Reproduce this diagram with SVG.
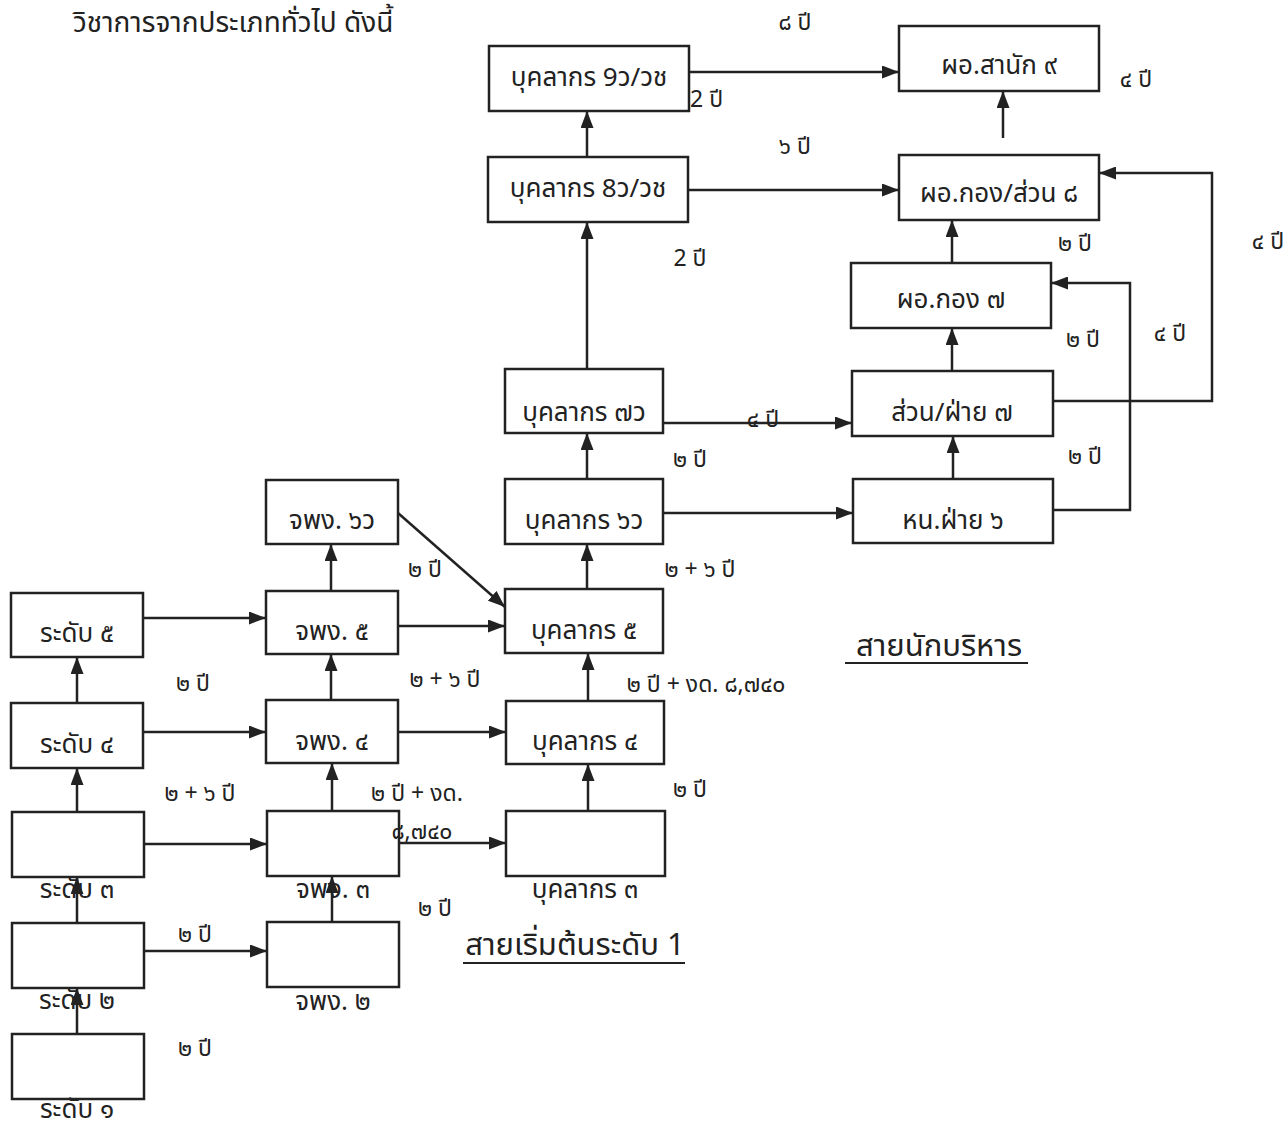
<svg xmlns="http://www.w3.org/2000/svg" width="1288" height="1129" viewBox="0 0 1288 1129">
<style>
  text { font-family: "Noto Sans Thai", "Noto Sans", "DejaVu Sans", sans-serif; fill: #222; dominant-baseline: central; }
  .box { fill: #fff; stroke: #222; stroke-width: 2.5; }
  .bl { font-size: 26px; text-anchor: middle; }
  .lb { font-size: 23px; text-anchor: middle; }
  .ti { font-size: 31px; text-anchor: middle; }
  .edge { fill: none; stroke: #222; stroke-width: 2.5; }
  .ul { stroke: #222; stroke-width: 2; }
</style>
<defs>
  <marker id="ah" markerUnits="userSpaceOnUse" markerWidth="17" markerHeight="13" refX="17" refY="6.5" orient="auto">
    <path d="M0,0 L17,6.5 L0,13 z" fill="#222"/>
  </marker>
</defs>
<rect width="1288" height="1129" fill="#fff"/>
<text x="73" y="32" style="font-size:28px; dominant-baseline:auto">วิชาการจากประเภททั่วไป ดังนี้</text>

<g id="connectors">
  <line class="edge" x1="690" y1="72" x2="899" y2="72" marker-end="url(#ah)"/>
  <line class="edge" x1="688" y1="190" x2="899" y2="190" marker-end="url(#ah)"/>
  <line class="edge" x1="587" y1="157" x2="587" y2="111" marker-end="url(#ah)"/>
  <line class="edge" x1="587" y1="369" x2="587" y2="222" marker-end="url(#ah)"/>
  <line class="edge" x1="1003" y1="138" x2="1003" y2="91" marker-end="url(#ah)"/>
  <polyline class="edge" points="1053,401 1212,401 1212,173 1099,173" marker-end="url(#ah)"/>
  <polyline class="edge" points="1053,510 1130,510 1130,283 1051,283" marker-end="url(#ah)"/>
  <line class="edge" x1="952" y1="263" x2="952" y2="220" marker-end="url(#ah)"/>
  <line class="edge" x1="952" y1="371" x2="952" y2="328" marker-end="url(#ah)"/>
  <line class="edge" x1="953" y1="479" x2="953" y2="436" marker-end="url(#ah)"/>
  <line class="edge" x1="663" y1="423" x2="852" y2="423" marker-end="url(#ah)"/>
  <line class="edge" x1="663" y1="513" x2="853" y2="513" marker-end="url(#ah)"/>
  <line class="edge" x1="587" y1="479" x2="587" y2="433" marker-end="url(#ah)"/>
  <line class="edge" x1="587" y1="589" x2="587" y2="544" marker-end="url(#ah)"/>
  <line class="edge" x1="588" y1="701" x2="588" y2="653" marker-end="url(#ah)"/>
  <line class="edge" x1="588" y1="811" x2="588" y2="764" marker-end="url(#ah)"/>
  <line class="edge" x1="398" y1="513" x2="505" y2="607" marker-end="url(#ah)"/>
  <line class="edge" x1="398" y1="626" x2="505" y2="626" marker-end="url(#ah)"/>
  <line class="edge" x1="331" y1="591" x2="331" y2="544" marker-end="url(#ah)"/>
  <line class="edge" x1="331" y1="700" x2="331" y2="654" marker-end="url(#ah)"/>
  <line class="edge" x1="332" y1="811" x2="332" y2="763" marker-end="url(#ah)"/>
  <line class="edge" x1="332" y1="922" x2="332" y2="876" marker-end="url(#ah)"/>
  <line class="edge" x1="398" y1="732" x2="506" y2="732" marker-end="url(#ah)"/>
  <line class="edge" x1="399" y1="843" x2="506" y2="843" marker-end="url(#ah)"/>
  <line class="edge" x1="143" y1="618" x2="266" y2="618" marker-end="url(#ah)"/>
  <line class="edge" x1="143" y1="732" x2="266" y2="732" marker-end="url(#ah)"/>
  <line class="edge" x1="140" y1="844" x2="267" y2="844" marker-end="url(#ah)"/>
  <line class="edge" x1="144" y1="951" x2="267" y2="951" marker-end="url(#ah)"/>
  <line class="edge" x1="77" y1="703" x2="77" y2="657" marker-end="url(#ah)"/>
  <line class="edge" x1="77" y1="812" x2="77" y2="768" marker-end="url(#ah)"/>
  <line class="edge" x1="77" y1="923" x2="77" y2="877" marker-end="url(#ah)"/>
  <line class="edge" x1="77" y1="1034" x2="77" y2="988" marker-end="url(#ah)"/>
</g>

<g id="n-p9"><rect class="box" x="489" y="46" width="200" height="65"/><text class="bl" x="589" y="78">บุคลากร 9ว/วช</text></g>
<g id="n-p8"><rect class="box" x="488" y="157" width="200" height="65"/><text class="bl" x="588" y="189">บุคลากร 8ว/วช</text></g>
<g id="n-d9"><rect class="box" x="899" y="26" width="200" height="65"/><text class="bl" x="999" y="66">ผอ.สานัก ๙</text></g>
<g id="n-d8"><rect class="box" x="899" y="155" width="200" height="65"/><text class="bl" x="999" y="194">ผอ.กอง/ส่วน ๘</text></g>
<g id="n-d7"><rect class="box" x="851" y="263" width="200" height="65"/><text class="bl" x="951" y="300">ผอ.กอง ๗</text></g>
<g id="n-s7"><rect class="box" x="852" y="371" width="201" height="65"/><text class="bl" x="952" y="413">ส่วน/ฝ่าย ๗</text></g>
<g id="n-h6"><rect class="box" x="853" y="479" width="200" height="64"/><text class="bl" x="953" y="521">หน.ฝ่าย ๖</text></g>
<g id="n-p7"><rect class="box" x="505" y="369" width="158" height="64"/><text class="bl" x="584" y="413">บุคลากร ๗ว</text></g>
<g id="n-p6"><rect class="box" x="505" y="479" width="158" height="65"/><text class="bl" x="584" y="521">บุคลากร ๖ว</text></g>
<g id="n-p5"><rect class="box" x="505" y="589" width="158" height="64"/><text class="bl" x="584" y="631">บุคลากร ๕</text></g>
<g id="n-p4"><rect class="box" x="506" y="701" width="158" height="63"/><text class="bl" x="585" y="742">บุคลากร ๔</text></g>
<g id="n-p3"><rect class="box" x="506" y="811" width="159" height="65"/><text class="bl" x="585" y="890">บุคลากร ๓</text></g>
<g id="n-j6"><rect class="box" x="266" y="480" width="132" height="64"/><text class="bl" x="332" y="521">จพง. ๖ว</text></g>
<g id="n-j5"><rect class="box" x="266" y="591" width="132" height="63"/><text class="bl" x="332" y="632">จพง. ๕</text></g>
<g id="n-j4"><rect class="box" x="266" y="700" width="132" height="63"/><text class="bl" x="332" y="742">จพง. ๔</text></g>
<g id="n-j3"><rect class="box" x="267" y="811" width="132" height="65"/><text class="bl" x="333" y="890">จพง. ๓</text></g>
<g id="n-j2"><rect class="box" x="267" y="922" width="132" height="65"/><text class="bl" x="333" y="1002">จพง. ๒</text></g>
<g id="n-r5"><rect class="box" x="11" y="593" width="132" height="64"/><text class="bl" x="77" y="634">ระดับ ๕</text></g>
<g id="n-r4"><rect class="box" x="11" y="703" width="132" height="65"/><text class="bl" x="77" y="745">ระดับ ๔</text></g>
<g id="n-r3"><rect class="box" x="12" y="812" width="132" height="65"/><text class="bl" x="77" y="890">ระดับ ๓</text></g>
<g id="n-r2"><rect class="box" x="12" y="923" width="132" height="65"/><text class="bl" x="77" y="1001">ระดับ ๒</text></g>
<g id="n-r1"><rect class="box" x="12" y="1034" width="132" height="65"/><text class="bl" x="77" y="1110">ระดับ ๑</text></g>

<g id="labels">
  <text class="lb" x="795" y="23">๘ ปี</text>
  <text class="lb" x="690" y="100" style="text-anchor:start">2 ปี</text>
  <text class="lb" x="795" y="147">๖ ปี</text>
  <text class="lb" x="1136" y="80">๔ ปี</text>
  <text class="lb" x="1268" y="242">๔ ปี</text>
  <text class="lb" x="690" y="259">2 ปี</text>
  <text class="lb" x="1075" y="244">๒ ปี</text>
  <text class="lb" x="1083" y="340">๒ ปี</text>
  <text class="lb" x="1170" y="334">๔ ปี</text>
  <text class="lb" x="763" y="420">๔ ปี</text>
  <text class="lb" x="690" y="460">๒ ปี</text>
  <text class="lb" x="1085" y="457">๒ ปี</text>
  <text class="lb" x="425" y="570">๒ ปี</text>
  <text class="lb" x="700" y="570">๒ + ๖ ปี</text>
  <text class="lb" x="445" y="680">๒ + ๖ ปี</text>
  <text class="lb" x="193" y="684">๒ ปี</text>
  <text class="lb" x="706" y="685">๒ ปี + งด. ๘,๗๔๐</text>
  <text class="lb" x="200" y="794">๒ + ๖ ปี</text>
  <text class="lb" x="417" y="794">๒ ปี + งด.</text>
  <text class="lb" x="422" y="832">๘,๗๔๐</text>
  <text class="lb" x="690" y="790">๒ ปี</text>
  <text class="lb" x="435" y="909">๒ ปี</text>
  <text class="lb" x="195" y="935">๒ ปี</text>
  <text class="lb" x="195" y="1049">๒ ปี</text>
</g>

<g id="titles">
  <text class="ti" x="939" y="646">สายนักบริหาร</text>
  <line class="ul" x1="845" y1="663" x2="1028" y2="663"/>
  <text class="ti" x="575" y="945">สายเริ่มต้นระดับ 1</text>
  <line class="ul" x1="463" y1="963" x2="685" y2="963"/>
</g>
</svg>
